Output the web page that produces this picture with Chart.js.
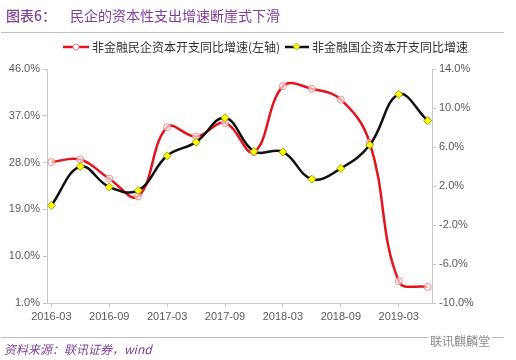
<!DOCTYPE html>
<html>
<head>
<meta charset="utf-8">
<script src="https://cdn.jsdelivr.net/npm/chart.js@4"></script>
<style>
    body { margin: 0; background: #fff; font-family: "Liberation Sans", "Noto Sans CJK SC", sans-serif; }
    #wrap { position: relative; width: 516px; height: 360px; overflow: hidden; }
    #c { position: absolute; left: 0; top: 0; }
    .title { position: absolute; left: 6px; top: 5px; font: 14px "Noto Sans CJK SC", sans-serif; color: #7f3f98; white-space: nowrap; }
    .title b { font-weight: 500; margin-right: 14px; }
    .rule { position: absolute; left: 1px; width: 503px; height: 1px; background: #bdbdbd; }
    .legend { position: absolute; top: 38px; font: 12px "Noto Sans CJK SC", sans-serif; color: #333; white-space: nowrap; display: flex; align-items: center; }
    .legend svg { margin-right: 3px; }
    .source { position: absolute; left: 4px; top: 340px; font: italic 12px "Noto Sans CJK SC", sans-serif; color: #7f3f98; }
    .mark { position: absolute; left: 428px; top: 332px; font: 12px "Noto Sans CJK SC", sans-serif; color: #8a8a8a; background: #fff; padding: 0 2px; }
</style>
</head>
<body>
<div id="wrap">
    <canvas id="c" width="516" height="360"></canvas>
    <div class="title"><b>图表6：</b>民企的资本性支出增速断崖式下滑</div>
    <div class="rule" style="top:32px"></div>
    <div class="legend" style="left:63px">
        <svg width="26" height="10"><line x1="0" y1="5" x2="26" y2="5" stroke="#e3141b" stroke-width="2.5"/><circle cx="13" cy="5" r="3" fill="#fff" stroke="#ec8a8a"/></svg>
        非金融民企资本开支同比增速(左轴)
    </div>
    <div class="legend" style="left:285px">
        <svg width="24" height="10"><line x1="0" y1="5" x2="24" y2="5" stroke="#111" stroke-width="2.5"/><rect x="9" y="2" width="5" height="5" fill="#ffff00" stroke="#8a8a00" stroke-width="0.6" transform="rotate(45 11.5 4.5)"/></svg>
        非金融国企资本开支同比增速
    </div>
    <div class="rule" style="top:337px"></div>
    <div class="source">资料来源：联讯证券，wind</div>
    <div class="mark">联讯麒麟堂</div>
</div>
<script>
const months = ["2016-03","2016-06","2016-09","2016-12","2017-03","2017-06","2017-09","2017-12",
                "2018-03","2018-06","2018-09","2018-12","2019-03","2019-06"];
const privateCapex = [28.1, 28.6, 24.9, 21.5, 34.8, 33.0, 35.6, 30.0, 42.7, 42.2, 40.1, 31.8, 5.2, 4.1];
const stateCapex = [0.0, 4.0, 1.9, 1.55, 5.1, 6.5, 9.0, 5.55, 5.5, 2.7, 3.8, 6.2, 11.4, 8.7];
const leftTicks = [1, 10, 19, 28, 37, 46];
const rightTicks = [-10, -6, -2, 2, 6, 10, 14];
const labelIdx = [0, 2, 4, 6, 8, 10, 12];

const axisGrey = '#c8c8c8';
const tickFont = { family: 'Liberation Sans', size: 11 };

function pts(arr) {
    return arr.map((v, i) => ({ x: i, y: v }));
}

new Chart(document.getElementById('c'), {
    type: 'line',
    data: {
        datasets: [{
            label: '非金融国企资本开支同比增速',
            data: pts(stateCapex),
            yAxisID: 'y2',
            borderColor: '#111',
            borderWidth: 2.5,
            tension: 0.4,
            pointStyle: 'rectRot',
            pointRadius: 4,
            pointBackgroundColor: '#ffff00',
            pointBorderColor: '#8a8a00',
            pointBorderWidth: 0.8,
            order: 1
        }, {
            label: '非金融民企资本开支同比增速(左轴)',
            data: pts(privateCapex),
            yAxisID: 'y',
            borderColor: '#e3141b',
            borderWidth: 2.5,
            tension: 0.4,
            pointRadius: 3.5,
            pointBackgroundColor: 'rgba(255,255,255,0.6)',
            pointBorderColor: '#ec8a8a',
            pointBorderWidth: 1,
            order: 2
        }]
    },
    options: {
        responsive: false,
        animation: false,
        layout: { padding: { top: 69, bottom: 0, left: 0, right: 0 } },
        plugins: { legend: { display: false }, tooltip: { enabled: false } },
        scales: {
            x: {
                type: 'linear',
                min: -0.15,
                max: 13.15,
                afterBuildTicks: s => { s.ticks = labelIdx.map(v => ({ value: v })); },
                afterFit: s => { s.height = 57; },
                grid: { drawOnChartArea: false, color: axisGrey, tickLength: 4 },
                border: { color: axisGrey },
                ticks: {
                    color: '#595959', font: tickFont, padding: 3, maxRotation: 0,
                    callback: v => months[v]
                }
            },
            y: {
                position: 'left',
                min: 1,
                max: 46,
                afterBuildTicks: s => { s.ticks = leftTicks.map(v => ({ value: v })); },
                afterFit: s => { s.width = 47; },
                grid: { drawOnChartArea: false, color: axisGrey, tickLength: 4 },
                border: { color: axisGrey },
                ticks: { color: '#595959', font: tickFont, padding: 3, callback: v => v.toFixed(1) + '%' }
            },
            y2: {
                position: 'right',
                min: -10,
                max: 14,
                afterBuildTicks: s => { s.ticks = rightTicks.map(v => ({ value: v })); },
                afterFit: s => { s.width = 84; },
                grid: { drawOnChartArea: false, color: axisGrey, tickLength: 4 },
                border: { color: axisGrey },
                ticks: { color: '#595959', font: tickFont, padding: 3, callback: v => v.toFixed(1) + '%' }
            }
        }
    }
});
</script>
</body>
</html>
